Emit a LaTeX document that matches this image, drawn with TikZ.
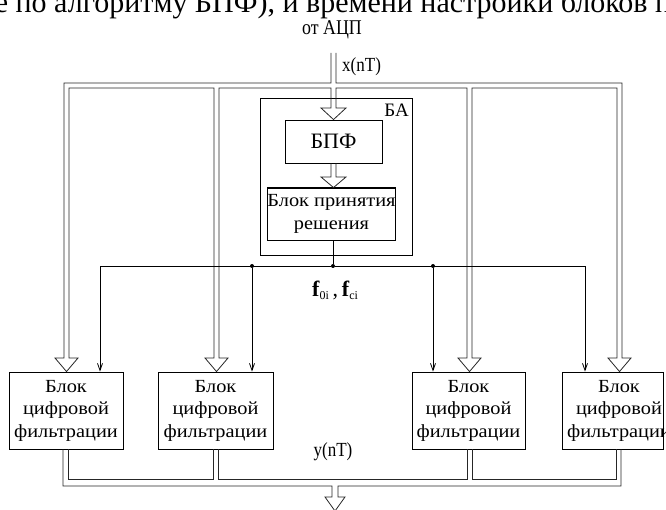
\documentclass[tikz,border=0pt]{standalone}
\usepackage{fontspec}
\setmainfont{Liberation Serif}
\newfontfamily\wfont[FakeStretch=1.1]{Liberation Serif}
\newfontfamily\nfont[FakeStretch=0.85]{Liberation Serif}
\usetikzlibrary{arrows.meta}
\begin{document}
\begin{tikzpicture}[x=1pt,y=-1pt,
  blk/.style={draw,line width=0.9pt,inner sep=0pt,align=center,font=\wfont\fontsize{18.5}{22.5}\selectfont},
  dl/.style={line width=0.8pt,draw=black!85,line join=miter},
  thinl/.style={line width=0.8pt},
  tarr/.style={thinl,-{Straight Barb[length=7pt,width=5pt]}},
  jdot/.style={circle,fill,inner sep=0pt,minimum size=4pt},
  lbl/.style={inner sep=0pt,font=\nfont\fontsize{20}{22}\selectfont}
]
\useasboundingbox (0,0) rectangle (666,510);
\clip (0,0) rectangle (666,510);

% clipped line of text above the figure
\node[inner sep=0pt,anchor=base,font=\rmfamily\fontsize{30}{34}\selectfont] (toptext) at (333,13) {е по алгоритму БПФ), и времени настройки блоков п};

\node[lbl,font=\nfont\fontsize{21}{23}\selectfont] (adc) at (332,30) {от АЦП};
\node[lbl,anchor=west] (xnt) at (342,67) {x(nT)};

% block BA
\node[draw,thinl,minimum width=152pt,minimum height=157pt,inner sep=0pt] (ba) at (336,176.5) {};
\node[lbl,anchor=north east,font=\rmfamily\fontsize{19}{20}\selectfont] (balbl) at (409,104) {БА};
\node[blk,minimum width=97pt,minimum height=43pt,font=\rmfamily\fontsize{22}{24}\selectfont] (fft) at (333.5,141.5) {БПФ};
\node[blk,minimum width=127pt,minimum height=52pt] (dec) at (331.5,214) {Блок принятия\\решения};
\draw[line width=1.8pt] (dec.north west) -- (dec.north east);

% filter blocks
\node[blk,text width=114pt,minimum height=77pt] (b1) at (66,410.5) {Блок\\цифровой\\фильтрации};
\node[blk,text width=115pt,minimum height=77pt] (b2) at (215.5,410.5) {Блок\\цифровой\\фильтрации};
\node[blk,text width=113pt,minimum height=77pt] (b3) at (468.5,410.5) {Блок\\цифровой\\фильтрации};
\node[blk,minimum width=101pt,minimum height=77pt] (b4) at (612.5,410.5) {};
\node[blk,draw=none] (b4t) at (619,410.5) {Блок\\цифровой\\фильтрации};

% double-line distribution bus (one outline)
\draw[dl] (331,53) -- (331,83) -- (64,83) -- (64,358)
  -- (55,358) -- (66.5,372 |- b1.north) -- (78,358) -- (69,358)
  -- (69,88) -- (214,88) -- (214,358)
  -- (205,358) -- (216.5,372 |- b2.north) -- (228,358) -- (219,358)
  -- (219,88) -- (331,88) -- (331,108)
  -- (321,108) -- (333.5,120 |- fft.north) -- (346,108) -- (336,108)
  -- (336,88) -- (467,88) -- (467,358)
  -- (458,358) -- (469.5,372 |- b3.north) -- (481,358) -- (472,358)
  -- (472,88) -- (617,88) -- (617,358)
  -- (608,358) -- (619.5,372 |- b4.north) -- (631,358) -- (622,358)
  -- (622,83) -- (336,83) -- (336,53);

% BPF -> decision
\draw[dl] (331,163 |- fft.south) -- (331,177) -- (321,177) -- (333.5,188 |- dec.north)
  -- (346,177) -- (336,177) -- (336,163 |- fft.south);

% output double-line bus
\draw[dl] (63,449 |- b1.south) -- (63,486) -- (332,486) -- (332,497)
  -- (325,497) -- (335,511) -- (345,497) -- (338,497)
  -- (338,486) -- (621,486) -- (621,449 |- b4.south);
\draw[dl] (68,449 |- b1.south) -- (68,479) -- (213,479) -- (213,449 |- b2.south);
\draw[dl] (218,449 |- b2.south) -- (218,479) -- (467,479) -- (467,449 |- b3.south);
\draw[dl] (472,449 |- b3.south) -- (472,479) -- (616,479) -- (616,449 |- b4.south);

% control bus
\node[jdot] (j0) at (333,266) {};
\node[jdot] (j1) at (252,266) {};
\node[jdot] (j2) at (433,266) {};
\draw[thinl] (333,0 |- dec.south) -- (j0);
\draw[tarr] (j0) -| (100,372 |- b1.north);
\draw[tarr] (j0) -| (585,372 |- b4.north);
\draw[tarr] (j1) -- (j1 |- b2.north);
\draw[tarr] (j2) -- (j2 |- b3.north);

\node[inner sep=0pt,font=\rmfamily\fontsize{22}{24}\selectfont] (flbl) at (335,290)
  {\textbf{f}\raisebox{-3pt}{\fontsize{12}{12}\selectfont 0i}\,,\,\textbf{f}\raisebox{-3pt}{\fontsize{12}{12}\selectfont ci}};
\node[lbl] (ynt) at (333,452) {y(nT)};
\end{tikzpicture}
\end{document}
